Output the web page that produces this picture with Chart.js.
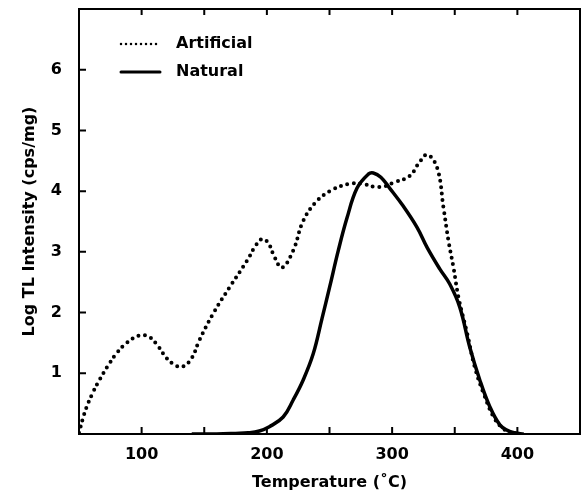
<!DOCTYPE html>
<html>
<head>
<meta charset="utf-8">
<script src="https://cdn.jsdelivr.net/npm/chart.js@4.4.1/dist/chart.umd.min.js"></script>
<style>
  html, body { margin: 0; padding: 0; background: #fff; }
  #wrap { width: 583px; height: 494px; }
</style>
</head>
<body>
<div id="wrap"><canvas id="tlChart" width="583" height="494"></canvas></div>
<script>
// Glow curves: temperature (C) -> log TL intensity
const artificialT = [50, 53, 56, 61, 66, 73, 80, 88, 98, 106, 113, 120, 127, 133, 140, 146, 157, 170, 184, 191, 196, 201, 206, 212, 221, 229, 240, 253, 266, 276, 286, 294, 301, 314, 321, 328, 336, 341, 345, 349, 353, 360, 366, 373, 381, 388, 394, 400];
const artificialLog = [0.02, 0.25, 0.44, 0.68, 0.88, 1.12, 1.33, 1.50, 1.62, 1.60, 1.45, 1.25, 1.13, 1.11, 1.25, 1.54, 1.98, 2.41, 2.85, 3.10, 3.21, 3.15, 2.92, 2.74, 3.02, 3.51, 3.84, 4.03, 4.12, 4.12, 4.07, 4.08, 4.14, 4.25, 4.45, 4.60, 4.38, 3.73, 3.18, 2.74, 2.25, 1.65, 1.10, 0.67, 0.28, 0.10, 0.03, 0.00];

const naturalT = [140, 160, 175, 185, 194, 202, 213, 221, 229, 237, 244, 250, 257, 264, 272, 281, 285, 291, 298, 309, 320, 328, 338, 346, 354, 362, 370, 378, 386, 392, 398, 405];
const naturalLog = [0.00, 0.00, 0.01, 0.02, 0.05, 0.12, 0.28, 0.56, 0.89, 1.32, 1.90, 2.41, 3.02, 3.56, 4.05, 4.28, 4.30, 4.23, 4.05, 3.75, 3.40, 3.07, 2.72, 2.47, 2.09, 1.43, 0.89, 0.45, 0.15, 0.06, 0.02, 0.00];

const xTickLabels = [100, 200, 300, 400];
const xTickMarks = [100, 150, 200, 250, 300, 350, 400];
const yTickLabels = [1, 2, 3, 4, 5, 6];

const FONT = "'DejaVu Sans', sans-serif";

function toPoints(xs, ys) {
    return xs.map((x, i) => ({ x: x, y: ys[i] }));
}

// frame, inward ticks and the in-plot legend
const framePlugin = {
    id: 'frame',
    afterDraw(chart) {
        const ctx = chart.ctx;
        const a = chart.chartArea;
        const xs = chart.scales.x;
        const ys = chart.scales.y;
        ctx.save();
        ctx.strokeStyle = '#000';
        ctx.lineWidth = 2;
        ctx.strokeRect(a.left, a.top, a.right - a.left, a.bottom - a.top);

        ctx.beginPath();
        xTickMarks.forEach(v => {
            const px = xs.getPixelForValue(v);
            ctx.moveTo(px, a.bottom);
            ctx.lineTo(px, a.bottom - 7);
            ctx.moveTo(px, a.top);
            ctx.lineTo(px, a.top + 6);
        });
        yTickLabels.forEach(v => {
            const py = ys.getPixelForValue(v);
            ctx.moveTo(a.left, py);
            ctx.lineTo(a.left + 7, py);
        });
        ctx.stroke();

        // legend
        const items = [
            { text: 'Artificial', y: 44, dash: [0, 5], width: 2.5 },
            { text: 'Natural', y: 72, dash: [], width: 3 }
        ];
        ctx.font = 'bold 16px ' + FONT;
        ctx.textBaseline = 'middle';
        ctx.fillStyle = '#000';
        items.forEach(it => {
            ctx.beginPath();
            ctx.lineWidth = it.width;
            ctx.lineCap = 'round';
            ctx.setLineDash(it.dash);
            ctx.moveTo(121, it.y);
            ctx.lineTo(160, it.y);
            ctx.stroke();
            ctx.setLineDash([]);
            ctx.fillText(it.text, 176, it.y);
        });
        ctx.restore();
    }
};

new Chart(document.getElementById('tlChart'), {
    type: 'line',
    data: {
        datasets: [
            {
                label: 'Artificial',
                data: toPoints(artificialT, artificialLog),
                borderColor: '#000',
                borderWidth: 4,
                borderDash: [0, 6.5],
                borderCapStyle: 'round',
                pointRadius: 0,
                tension: 0.4,
                fill: false
            },
            {
                label: 'Natural',
                data: toPoints(naturalT, naturalLog),
                borderColor: '#000',
                borderWidth: 3.5,
                pointRadius: 0,
                tension: 0.4,
                fill: false
            }
        ]
    },
    options: {
        responsive: false,
        animation: false,
        layout: { padding: { top: 9, right: 3, left: 0, bottom: 0 } },
        plugins: {
            legend: { display: false },
            tooltip: { enabled: false }
        },
        scales: {
            x: {
                type: 'linear',
                min: 50,
                max: 450,
                afterFit: s => { s.height = 60; s.paddingLeft = 0; s.paddingRight = 0; },
                afterBuildTicks: s => { s.ticks = xTickLabels.map(v => ({ value: v })); },
                grid: { display: false, drawTicks: false },
                border: { display: false },
                ticks: {
                    color: '#000',
                    padding: 11,
                    maxRotation: 0,
                    font: { family: FONT, size: 16, weight: 'bold' }
                },
                title: {
                    display: true,
                    text: 'Temperature (˚C)',
                    color: '#000',
                    padding: { top: 0, bottom: 2 },
                    font: { family: FONT, size: 16, weight: 'bold' }
                }
            },
            y: {
                min: 0,
                max: 7,
                afterFit: s => { s.width = 79; s.paddingTop = 0; s.paddingBottom = 0; },
                afterBuildTicks: s => { s.ticks = yTickLabels.map(v => ({ value: v })); },
                grid: { display: false, drawTicks: false },
                border: { display: false },
                ticks: {
                    color: '#000',
                    padding: 17,
                    font: { family: FONT, size: 16, weight: 'bold' }
                },
                title: {
                    display: true,
                    text: 'Log TL Intensity (cps/mg)',
                    color: '#000',
                    padding: { top: 20, bottom: 0 },
                    font: { family: FONT, size: 16, weight: 'bold' }
                }
            }
        }
    },
    plugins: [framePlugin]
});
</script>
</body>
</html>
